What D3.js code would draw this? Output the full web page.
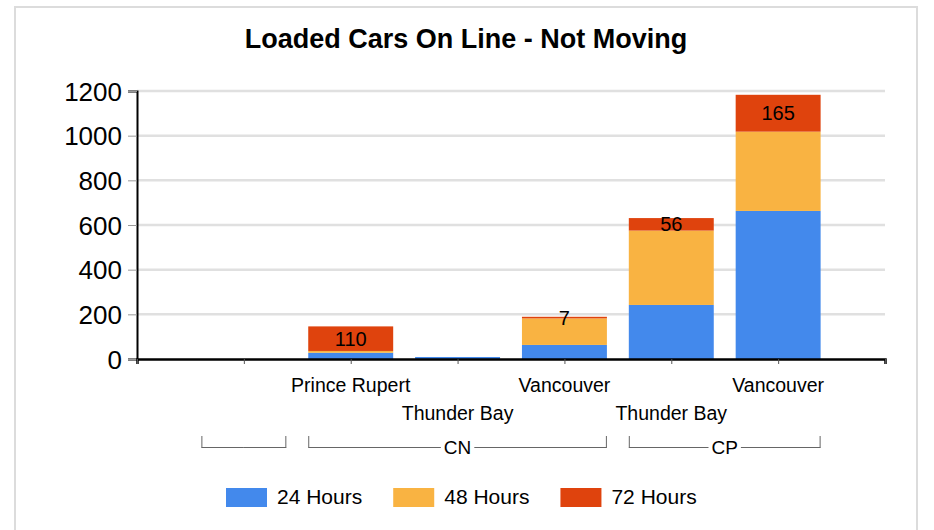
<!DOCTYPE html>
<html><head><meta charset="utf-8">
<script src="https://cdn.jsdelivr.net/npm/d3@7"></script>
<style>body{margin:0;background:#fff;font-family:"Liberation Sans",Arial,sans-serif;}</style>
</head><body><svg id="c" width="934" height="530"></svg>
<script>
const title = "Loaded Cars On Line - Not Moving";
const categories = ["", "Prince Rupert", "Thunder Bay", "Vancouver", "Thunder Bay", "Vancouver"];
const groups = ["", "CN", "CN", "CN", "CP", "CP"];
const seriesNames = ["24 Hours", "48 Hours", "72 Hours"];
const h24 = [0, 28, 9, 63, 242, 663];
const h48 = [0, 8, 0, 119, 333, 355];
const h72 = [0, 110, 0, 7, 56, 165];
const yTicks = [0, 200, 400, 600, 800, 1000, 1200];
const colors = ["#4389ec", "#f9b342", "#df430d"];

const svg = d3.select("#c");
const font = '"Liberation Sans",Arial,sans-serif';
// frame
svg.append("rect").attr("x",15).attr("y",7).attr("width",902).attr("height",540)
  .attr("fill","none").attr("stroke","#dcdcdc").attr("stroke-width",2);

const L=137, R=885, T=91, B=359;
const x = d3.scaleLinear().domain([0, categories.length+1]).range([L, R]);
const y = d3.scaleLinear().domain([0, 1200]).range([B, T]);
const step = x(1)-x(0);
const bw = step*0.795;

// title
svg.append("text").attr("x",466).attr("y",48).attr("text-anchor","middle")
  .attr("font-family",font).attr("font-weight","bold").attr("font-size",27).text(title);

// gridlines
svg.append("g").selectAll("line").data(yTicks.filter(d=>d>0)).join("line")
  .attr("x1",L).attr("x2",R).attr("y1",d=>y(d)).attr("y2",d=>y(d))
  .attr("stroke","#e0e0e0").attr("stroke-width",2.5);

// y axis
const ya = svg.append("g").attr("transform",`translate(${L},0)`)
  .call(d3.axisLeft(y).tickValues(yTicks).tickFormat(d3.format("d")).tickSize(9).tickPadding(6));
ya.select(".domain").attr("stroke","#000").attr("stroke-width",2);
ya.selectAll(".tick line").attr("stroke","#999");
ya.selectAll(".tick text").attr("font-family",font).attr("font-size",26).attr("fill","#000").attr("dy","0.35em");

// stacked bars
const rows = categories.map((c,i)=>({i, h24:h24[i], h48:h48[i], h72:h72[i]}));
const stack = d3.stack().keys(["h24","h48","h72"])(rows);
const lg = svg.append("g");
stack.forEach((s,k)=>{
  lg.append("g").attr("fill",colors[k]).selectAll("rect").data(s).join("rect")
    .attr("x",d=>x(d.data.i+1)-bw/2).attr("width",bw)
    .attr("y",d=>y(d[1])).attr("height",d=>Math.max(0,y(d[0])-y(d[1])));
});
// labels for 72 hours
svg.append("g").selectAll("text").data(stack[2].filter(d=>d.data.h72>0)).join("text")
  .attr("x",d=>x(d.data.i+1)).attr("y",d=>(y(d[0])+y(d[1]))/2).attr("dy","0.35em")
  .attr("text-anchor","middle").attr("font-family",font).attr("font-size",20)
  .text(d=>d.data.h72);

// x axis
const xa = svg.append("g").attr("transform",`translate(0,${B})`)
  .call(d3.axisBottom(x).ticks(categories.length+1).tickSize(5).tickFormat(""));
xa.select(".domain").attr("stroke","#000").attr("stroke-width",2.5);
xa.selectAll(".tick line").attr("stroke","#555");

// category labels (staggered)
svg.append("g").selectAll("text").data(categories).join("text")
  .attr("x",(d,i)=>x(i+1)).attr("y",(d,i)=> i%2===1 ? 392 : 420)
  .attr("text-anchor","middle").attr("font-family",font).attr("font-size",19.5).text(d=>d);

// group brackets
const gNames = [...new Set(groups)];
const bg = svg.append("g");
gNames.forEach(g=>{
  const idx = groups.map((v,i)=>v===g?i:-1).filter(i=>i>=0);
  const x0 = x(idx[0]+1)-bw/2, x1 = x(idx[idx.length-1]+1)+bw/2, yy=447.5;
  bg.append("line").attr("x1",x0+0.5).attr("x2",x0+0.5).attr("y1",436).attr("y2",yy).attr("stroke","#666");
  bg.append("line").attr("x1",x1-0.5).attr("x2",x1-0.5).attr("y1",436).attr("y2",yy).attr("stroke","#666");
  const cx=(x0+x1)/2;
  let half=0;
  if(g){
    const t = bg.append("text").attr("x",cx).attr("y",yy).attr("dy","0.35em").attr("text-anchor","middle")
      .attr("font-family",font).attr("font-size",19).text(g);
    half = t.node().getComputedTextLength()/2+3;
  }
  bg.append("line").attr("x1",x0).attr("x2",cx-half).attr("y1",yy).attr("y2",yy).attr("stroke","#666");
  bg.append("line").attr("x1",cx+half).attr("x2",x1).attr("y1",yy).attr("y2",yy).attr("stroke","#666");
});

// legend
let lx = 226;
const leg = svg.append("g");
seriesNames.forEach((n,k)=>{
  leg.append("rect").attr("x",lx).attr("y",488).attr("width",41).attr("height",19).attr("fill",colors[k]);
  const t = leg.append("text").attr("x",lx+51).attr("y",504).attr("font-family",font).attr("font-size",21).text(n);
  lx += 51 + t.node().getComputedTextLength() + 31;
});
</script></body></html>
